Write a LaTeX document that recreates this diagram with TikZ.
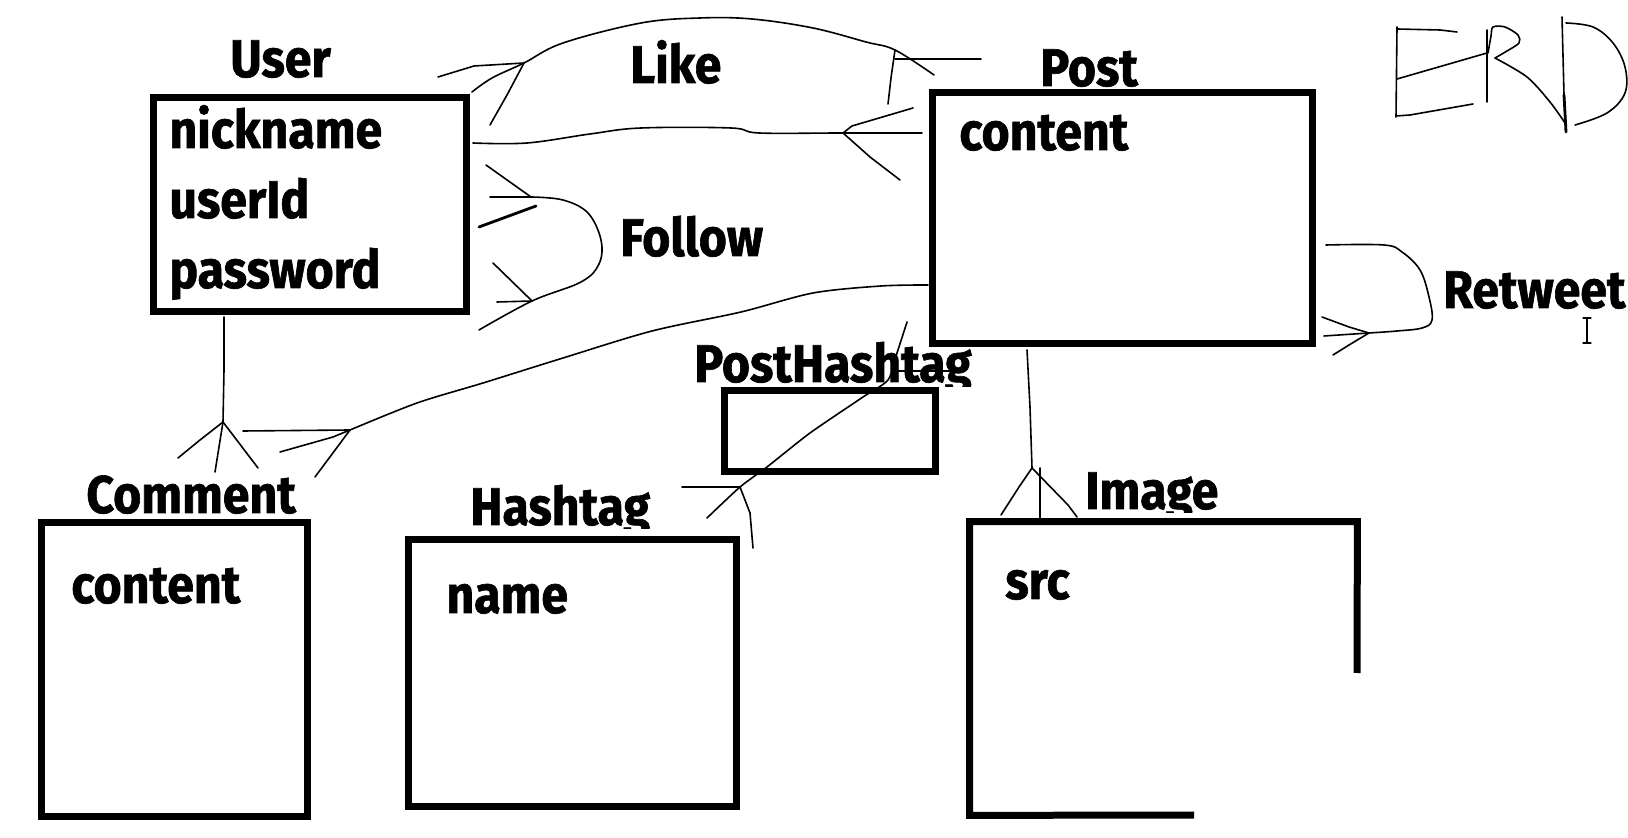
\documentclass[tikz,border=0pt]{standalone}
\usepackage{fontspec}
\setmainfont{Fira Sans}[FakeStretch=0.91, BoldFeatures={FakeBold=1.2}]
\usetikzlibrary{fit}
\begin{document}
\begin{tikzpicture}[x=0.5pt,y=-0.5pt,
  ent/.style={draw, line width=3.5pt, inner sep=0pt},
  lab/.style={anchor=base west, inner sep=0pt, font=\fontsize{26.5pt}{30pt}\selectfont\bfseries},
  pen/.style={line width=0.8pt, line join=round, line cap=round},
  thickpen/.style={line width=1.4pt, line join=round, line cap=round},
  boxline/.style={line width=3.5pt}
]
\useasboundingbox (0,0) rectangle (1628,838);
% entities
\node[ent, fit={(153.5,97.5) (466.5,312)}] (User) {};
\node[ent, fit={(932.5,92.5) (1312.5,343.5)}] (Post) {};
\node[ent, fit={(41.5,522.5) (307.5,816.5)}] (Comment) {};
\node[ent, fit={(408.5,539.5) (736.5,806.5)}] (Hashtag) {};
\node[ent, fit={(724,390.5) (935,472)}] (PostHashtag) {};
\node[inner sep=0pt, fit={(970,522) (1357,815)}] (Image) {};
\draw[boxline] (1194,815) -- (Image.south west) -- (Image.north west) -- (Image.north east) -- (1357,673);

% labels
\node[lab] (tUser) at (230,77) {User};
\node[lab] (tLike) at (630,83) {Like};
\node[lab] (tPost) at (1040,86) {Post};
\node[lab] (tNick) at (169,148) {nickname};
\node[lab] (tUid) at (169,218) {userId};
\node[lab] (tPw) at (169,288) {password};
\node[lab] (tFollow) at (620,256) {Follow};
\node[lab] (tPcont) at (959,150) {content};
\node[lab, anchor=base east] (tRetweet) at (1626,308) {Retweet};
\node[lab] (tComment) at (86,513) {Comment};
\node[lab] (tCcont) at (71,603) {content};
\node[lab] (tName) at (446,613) {name};
\node[lab] (tSrc) at (1005,599) {src};
\begin{scope}
\clip (680,320) rectangle (1000,387);
\node[lab] (tPH) at (694,382) {PostHashtag};
\end{scope}
\begin{scope}
\clip (450,470) rectangle (700,529);
\node[lab] (tHash) at (470,525) {Hashtag};
\end{scope}
\begin{scope}
\clip (1070,450) rectangle (1260,513);
\node[lab] (tImg) at (1085,509) {Image};
\end{scope}

% Like (upper arc)
\coordinate (lkU) at (472,92);
\coordinate (lkJ1) at (524,63);
\coordinate (lkJ2) at (895,50);
\coordinate (lkP) at (934,75);
\draw[pen] plot[smooth, tension=0.6] coordinates {(lkU) (492,78) (lkJ1) (563,43) (641,23) (700,18) (752,19) (813,28) (866,42) (lkJ2) (lkP)};
\draw[pen] (438,77) -- (474,66) -- (lkJ1);
\draw[pen] (lkJ1) -- (507,95) -- (490,125);
\draw[pen] (895,59) -- (981,59);
\draw[pen] (lkJ2) -- (891,78) -- (888,104);

% Like (lower line)
\coordinate (lkU2) at (473,143);
\coordinate (lkJ3) at (843,133);
\coordinate (lkP2) at (922,133);
\draw[pen] plot[smooth, tension=0.6] coordinates {(lkU2) (527,143) (590,134) (641,128) (731,128) (759,133) (lkJ3) (lkP2)};
\draw[pen] (lkJ3) -- (852,126) -- (913,108);
\draw[pen] (lkJ3) -- (870,157) -- (900,180);

% Follow (self loop on User)
\coordinate (fwT) at (531,197);
\coordinate (fwB) at (532,301);
\draw[pen] plot[smooth, tension=0.6] coordinates {(fwT) (563,200) (588,213) (601,240) (599,264) (581,282) (fwB) (479,330)};
\draw[pen] (486,165) -- (fwT);
\draw[pen] (490,197) -- (fwT);
\draw[thickpen] (479,227) -- (536,206);
\draw[pen] (493,263) -- (fwB);
\draw[pen] (497,302) -- (fwB);

% Post - Comment
\coordinate (pcP) at (928,285);
\coordinate (pcJ) at (350,430);
\draw[pen] plot[smooth, tension=0.5] coordinates {(pcP) (881,286) (813,293) (741,312) (652,331) (563,358) (483,383) (417,403) (pcJ)};
\draw[pen] (pcJ) -- (243,431);
\draw[pen] (pcJ) -- (333,437) -- (280,452);
\draw[pen] (pcJ) -- (315,477);

% User - Comment
\coordinate (ucU) at (224,317);
\coordinate (ucJ) at (223,422);
\draw[pen] (ucU) -- (224,370) -- (ucJ);
\draw[pen] (ucJ) -- (200,440) -- (178,458);
\draw[pen] (ucJ) -- (215,472);
\draw[pen] (ucJ) -- (258,468);

% Post - Hashtag (through PostHashtag)
\coordinate (phP) at (907,322);
\coordinate (phK) at (888,380);
\coordinate (phJ) at (740,487);
\draw[pen] plot[smooth, tension=0.4] coordinates {(phP) (897,353) (phK) (863,397) (810,433) (767,467) (phJ) (707,518)};
\draw[pen] (893,371) -- (953,371);
\draw[pen] (phJ) -- (682,487);
\draw[pen] (phJ) -- (750,513) -- (753,548);

% Retweet (self loop on Post)
\coordinate (rtT) at (1326,245);
\coordinate (rtJ) at (1369,333);
\draw[pen] plot[smooth, tension=0.6] coordinates {(rtT) (1384,245) (1402,252) (1420,270) (1429,297) (1432,320) (1422,328) (1397,331) (rtJ)};
\draw[pen] (rtJ) -- (1349,327) -- (1322,317);
\draw[pen] (rtJ) -- (1324,336);
\draw[pen] (rtJ) -- (1349,345) -- (1333,355);

% Post - Image
\coordinate (piP) at (1027,350);
\coordinate (piJ) at (1032,468);
\draw[pen] (piP) -- (1030,407) -- (piJ);
\draw[pen] (piJ) -- (1019,487) -- (1001,515);
\draw[pen] (1040,468) -- (1040,518);
\draw[pen] (piJ) -- (1068,505) -- (1077,517);

% text cursor
\draw[pen, line width=0.6pt] (1587,318) -- (1587,343);
\draw[pen, line width=0.6pt] (1583,318) -- (1591,318);
\draw[pen, line width=0.6pt] (1583,343) -- (1591,343);

% hand-written ERD
\draw[pen] (1397,29) -- (1440,30) -- (1457,32);
\draw[pen] (1397,27) -- (1396,117);
\draw[pen] (1397,79) -- (1487,53);
\draw[pen] (1396,116) -- (1410,115) -- (1473,104);
\draw[pen] (1487,30) -- (1487,102);
\draw[pen] plot[smooth, tension=0.5] coordinates {(1488,53) (1491,36) (1493,27) (1505,27) (1518,35) (1519,43) (1507,51) (1495,58)};
\draw[pen] plot[smooth, tension=0.5] coordinates {(1495,58) (1527,77) (1550,102) (1565,123)};
\draw[pen] (1562,17) -- (1564,95);
\draw[thickpen] (1564,95) -- (1566,132);
\draw[pen] plot[smooth, tension=0.6] coordinates {(1566,23) (1593,27) (1613,43) (1625,67) (1625,93) (1607,113) (1575,125)};
\end{tikzpicture}
\end{document}
